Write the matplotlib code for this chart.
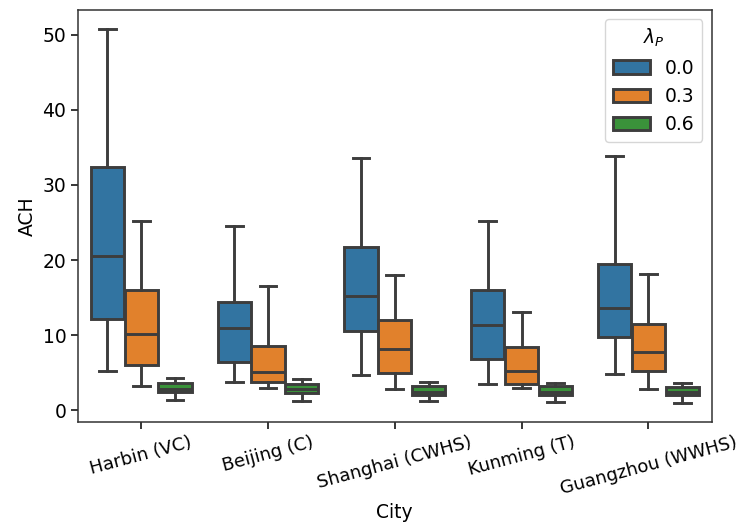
import matplotlib
matplotlib.use("Agg")
import matplotlib.pyplot as plt
from matplotlib.patches import Patch
import numpy as np

cities = ["Harbin (VC)", "Beijing (C)", "Shanghai (CWHS)", "Kunming (T)", "Guangzhou (WWHS)"]
lambdas = ["0.0", "0.3", "0.6"]

# per lambda: lists over cities
whislo = {
    "0.0": [5.3, 3.8, 4.7, 3.5, 4.8],
    "0.3": [3.2, 3.0, 2.9, 3.0, 2.9],
    "0.6": [1.4, 1.2, 1.3, 1.1, 1.0],
}
q1 = {
    "0.0": [12.2, 6.4, 10.6, 6.9, 9.8],
    "0.3": [6.1, 3.8, 5.0, 3.5, 5.2],
    "0.6": [2.4, 2.3, 2.1, 2.0, 2.0],
}
med = {
    "0.0": [20.5, 10.9, 15.2, 11.3, 13.6],
    "0.3": [10.2, 5.1, 8.2, 5.3, 7.8],
    "0.6": [2.9, 2.8, 2.5, 2.45, 2.45],
}
q3 = {
    "0.0": [32.4, 14.4, 21.8, 16.0, 19.5],
    "0.3": [16.0, 8.6, 12.0, 8.4, 11.5],
    "0.6": [3.6, 3.5, 3.2, 3.2, 3.1],
}
whishi = {
    "0.0": [50.8, 24.5, 33.6, 25.2, 33.8],
    "0.3": [25.2, 16.6, 18.0, 13.1, 18.2],
    "0.6": [4.3, 4.2, 3.8, 3.6, 3.7],
}

colors = ["#3274a1", "#e1812c", "#3a923a"]
edge = "#3d3d3d"
fs = 13.5
lw = 2.1

plt.rcParams["font.family"] = "DejaVu Sans"
plt.rcParams["xtick.major.size"] = 4.8
plt.rcParams["ytick.major.size"] = 4.8
plt.rcParams["xtick.major.width"] = 1.1
plt.rcParams["ytick.major.width"] = 1.1
fig = plt.figure(figsize=(7.41, 5.25), dpi=100)
ax = fig.add_axes([0.105, 0.197, 0.8555, 0.784])

n_h = len(lambdas)
width = 0.8 / n_h
x = np.arange(len(cities))
for j, lam in enumerate(lambdas):
    offset = (j - (n_h - 1) / 2) * width
    stats = []
    for i in range(len(cities)):
        stats.append(dict(med=med[lam][i], q1=q1[lam][i], q3=q3[lam][i],
                          whislo=whislo[lam][i], whishi=whishi[lam][i], fliers=[]))
    ax.bxp(stats, positions=x + offset, widths=width * 0.98, patch_artist=True,
           showfliers=False, manage_ticks=False,
           boxprops=dict(facecolor=colors[j], edgecolor=edge, linewidth=lw),
           medianprops=dict(color=edge, linewidth=lw),
           whiskerprops=dict(color=edge, linewidth=lw),
           capprops=dict(color=edge, linewidth=lw),
           capwidths=width * 0.5)

ax.set_xlim(-0.5, len(cities) - 0.5)
ax.set_xticks(x)
ax.set_xticklabels(cities, rotation=15, fontsize=13)
ax.set_yticks([0, 10, 20, 30, 40, 50])
ax.tick_params(axis="y", labelsize=fs)
ax.set_xlabel("City", fontsize=fs)
ax.set_ylabel("ACH", fontsize=fs)
for s in ax.spines.values():
    s.set_color("#333333")
    s.set_linewidth(1.1)

handles = [Patch(facecolor=c, edgecolor=edge, linewidth=lw, label=l) for c, l in zip(colors, lambdas)]
ax.legend(handles=handles, title=r"$\lambda_P$", loc="upper right", fontsize=fs, title_fontsize=fs)

fig.savefig("out.png", dpi=100)
